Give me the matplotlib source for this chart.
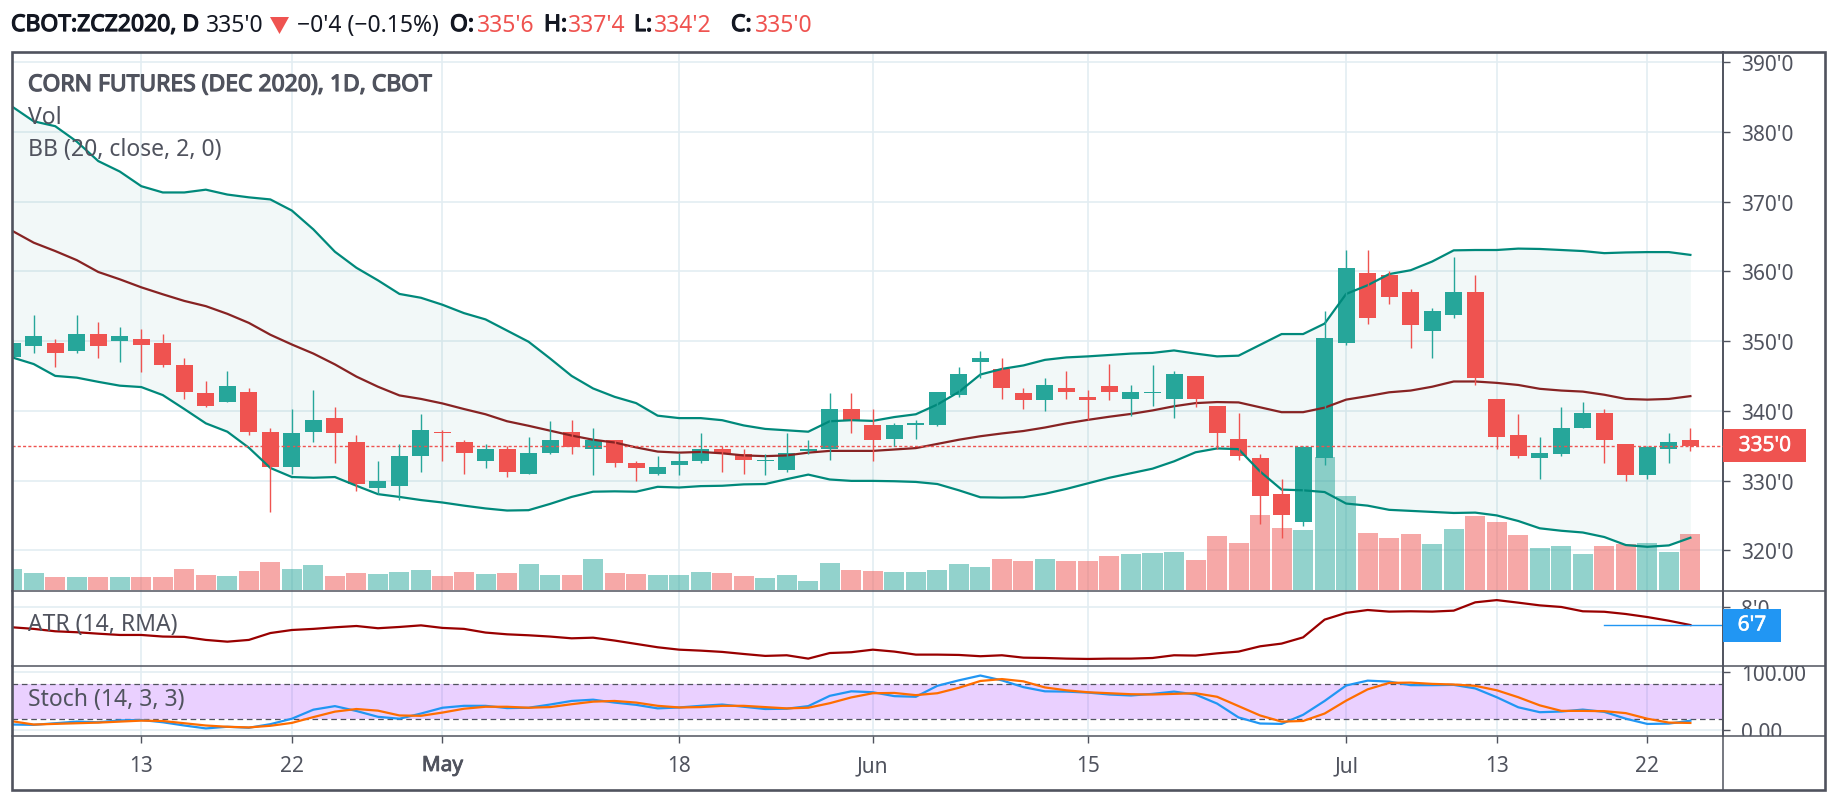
import matplotlib
matplotlib.use("Agg")
import matplotlib.pyplot as plt
import matplotlib.patheffects as pe
from matplotlib.patches import Rectangle, Polygon
from matplotlib.transforms import Bbox, TransformedBbox

plt.rcParams['font.family'] = ['Noto Sans', 'DejaVu Sans']

W, H = 1837, 803

opens = [347.75,349.25,349.75,348.5,351,350,350.25,349.75,346.5,342.5,341.25,342.75,337,332,337,339,335.5,329,329.25,333.5,
         337,335.5,332.75,334.5,331,334,337,334.5,335.75,332.5,331,332.25,332.75,334.5,333.75,332.75,331.5,334.25,334.5,340.25,
         338,336,338,338,342.25,347,346,342.5,341.5,343.25,342,343.5,341.75,342.5,341.75,345,340.75,336,333.25,328,
         324,333.25,349.75,359.75,359.5,357,351.5,353.75,357,341.75,336.5,333.25,333.75,337.5,339.75,335.25,330.75,334.5,335.75]
highs = [350.25,353.75,350.25,353.75,352.75,352,351.75,351,347.5,344.25,345.75,343.25,337.5,340.25,343,340.5,336.5,332.75,335.25,339.5,
         337.25,335.75,335.25,335,336.25,338.5,338.75,337.5,335.75,332.75,333.5,334,336.75,335,334.5,333.75,336.75,335.75,342.5,342.5,
         340.25,338.25,338.75,342.75,346.25,348.5,347.5,343.25,344.75,345.75,343,346.75,343.75,346.5,345.75,345,340.75,339.75,333.75,330.25,
         335,354.25,363,363,360,357.5,354.75,362,359.5,341.75,339.5,336.25,340.5,341.25,340.25,335.25,335,336.75,337.5]
lows = [347.5,348.25,346.25,348.25,347.5,347,345.5,346.25,341.75,340.5,341.25,336.5,325.5,331,335.5,332.5,328.5,328,327.25,331.25,
        332.75,331,331.75,330.5,331,333.75,333.75,330.75,332,330,330.75,330.75,332.5,331.25,331,330.75,331.25,333.75,333,336.75,
        332.75,335,336,337.75,342,344.75,341.75,340.25,340,341.75,338.75,341.5,339.25,340.75,339,340.5,334.5,333,323.75,321.75,
        323.5,332.25,349.5,352.5,355.25,349,347.5,353.25,343.75,334.5,333.25,330.25,333.5,337.5,332.5,330,330.25,332.5,334.25]
closes = [349.75,350.75,348.25,351,349.25,350.75,349.5,346.5,342.75,340.75,343.5,337,332,336.75,338.75,336.75,329.5,330,333.5,337.25,
          336.75,334,334.5,331.25,334,335.75,334.75,335.75,332.5,331.75,332,332.75,334.5,334,333,333,334,334.5,340.25,338.75,
          335.75,338,338.25,342.75,345.25,347.5,343.25,341.5,343.75,342.75,341.5,342.75,342.75,342.75,345.25,341.75,336.75,333.5,327.75,325,
          334.75,350.5,360.5,353.25,356.25,352.25,354.25,357,344.75,336.25,333.5,334,337.5,339.75,335.75,330.75,334.75,335.5,335]
volume = [21,17,13,13,13,13,13,13,21,15,14,19,28,21,25,14,17,16,18,20,
          14,18,16,17,26,15,15,31,17,16,15,15,18,17,14,12,15,9,27,20,
          19,18,18,20,26,23,31,29,31,29,29,34,36,37,38,30,54,47,75,62,
          60,133,94,57,52,56,46,61,74,68,55,42,44,36,44,46,47,38,56]
bb_upper = [383.6,381.5,380.8,378.6,375.8,374.3,372.2,371.3,371.3,371.7,371,370.6,370.3,368.7,366,362.8,360.5,358.7,356.75,356.2,
            355.2,354,353.1,351.5,349.9,347.5,345,343.2,342,341.1,339.3,338.95,338.95,338.65,337.9,337.4,337.2,337,338.5,338.65,
            338.55,339.1,339.5,340.9,342.7,345.2,346,346.5,347.3,347.65,347.8,348,348.2,348.3,348.65,348.2,347.8,347.9,349.45,351,
            351,352.5,356.75,358,359.6,360.15,361.4,363,363.05,363.05,363.25,363.2,363.05,362.9,362.6,362.7,362.75,362.75,362.35]
bb_basis = [365.8,364.1,362.9,361.6,359.9,358.85,357.7,356.7,355.75,355,353.9,352.6,350.9,349.5,348.2,346.65,344.9,343.45,342.2,341.7,
            341.05,340.25,339.5,338.5,337.85,337.15,336.45,335.85,335.45,334.75,334.15,334,334.1,333.9,333.6,333.5,333.6,334,334.25,334.25,
            334.25,334.45,334.65,335.25,335.85,336.35,336.75,337.1,337.6,338.2,338.7,339.15,339.55,340.05,340.65,341.1,341.25,341.2,340.5,339.8,
            339.8,340.45,341.6,342.1,342.65,342.9,343.45,344.2,344.2,344,343.7,343.15,342.9,342.75,342.3,341.7,341.6,341.7,342.1]
bb_lower = [347.65,346.7,345,344.75,344.15,343.6,343.4,342.25,340.25,338.2,337,334.7,331.8,330.5,330.4,330.5,329.25,328.05,327.65,327.2,
            326.85,326.4,326,325.7,325.75,326.65,327.65,328.4,328.45,328.4,329.1,329,329.2,329.25,329.45,329.5,330.2,330.85,330.15,329.95,
            329.95,329.9,329.8,329.5,328.6,327.6,327.55,327.6,328.1,328.8,329.6,330.4,331.05,331.7,332.75,334.05,334.6,334.5,331.3,328.7,
            328.6,328.35,326.7,326.4,325.8,325.65,325.5,325.35,325.4,325,324.2,323.15,322.8,322.55,321.9,320.75,320.5,320.7,321.8]
atr = [6.75,6.65,6.50,6.44,6.35,6.27,6.27,6.17,6.15,5.96,5.85,5.96,6.39,6.58,6.65,6.75,6.83,6.69,6.77,6.87,
       6.71,6.65,6.42,6.31,6.25,6.17,6.06,6.10,5.92,5.71,5.50,5.35,5.29,5.21,5.08,4.96,5.0,4.79,5.14,5.19,
       5.35,5.23,5.04,5.04,5.02,4.94,5.0,4.85,4.83,4.79,4.77,4.79,4.79,4.83,5.0,4.98,5.12,5.23,5.56,5.73,
       6.12,7.23,7.65,7.83,7.73,7.75,7.73,7.79,8.31,8.45,8.29,8.12,8.02,7.75,7.72,7.58,7.39,7.16,6.89]
stoch_k = [10,9.4,12.2,15,13.9,17.2,17.8,13.9,8.3,3.3,6.1,4.4,10.6,20,35.6,41.7,33.3,23.3,20,28.9,
           38.9,42.2,42.2,38.3,38.9,44.4,50.6,52.8,47.8,43.9,37.8,39.4,42.2,44.4,40.6,36.7,37.2,41.7,59.4,67.2,
           65.6,58.9,57.8,76.7,86.1,94.4,86.1,74.4,67.2,66.7,65,61.7,60,62.8,66.7,61.7,46.1,22.2,11.7,11.1,
           26.7,50.6,77.2,85.6,83.9,77.8,77.8,78.3,72.2,57,39.7,31.2,32.4,35.7,31.8,20,11,11.6,16.6]
stoch_d = [15.6,10,11.1,12.2,13.3,15,16.7,16.1,12.2,8.3,6.1,5,7.8,12.8,22.8,32.2,36.7,33.9,25.6,25,
           30.6,37.2,40.6,40.6,38.9,40,45,49.4,50.6,47.8,42.2,39.4,40,42.2,42.2,40,37.8,38.9,46.7,56.7,
           63.9,64.4,60.6,63.9,73.3,85,88.3,84.4,73.9,68.9,65.6,63.9,62.2,61.7,62.8,63.9,57.8,41.7,25.6,15,
           16.1,28.9,51.1,70.6,81.7,82.2,80,78.9,76.7,69,57,43,33.5,33.5,33,29.6,20,13.3,12.7]

tick_positions = [6, 13, 20, 31, 40, 50, 62, 69, 76]
tick_labels = ['13', '22', 'May', '18', 'Jun', '15', 'Jul', '13', '22']
price_ticks = [320, 330, 340, 350, 360, 370, 380, 390]
last_price = 335.0
last_atr = 6.875

RED, TEAL = '#ef5350', '#26a69a'
GRID = '#e3edf2'
FRAME = '#50535e'
TEXT = '#50535e'
DARK = '#131722'
FONT = 15
FONT_L = 16.5

fig = plt.figure(figsize=(W / 100, H / 100), dpi=100, facecolor='white')


def rect(x0, y0, x1, y1):
    return [x0 / W, 1 - y1 / H, (x1 - x0) / W, (y1 - y0) / H]


def px(x, y):
    return x / W, 1 - y / H


LEFT, AXR, RIGHT = 12.0, 1723.3, 1825.0
TOP, D1, D2, D3, BOTTOM = 52.7, 592.3, 667.3, 737.3, 790.5
XLIM = (-0.009, 79.53)
xs = list(range(len(closes)))


def pane(y0, y1, ylim, z=0, bare=False):
    a = fig.add_axes(rect(LEFT, y0, AXR, y1), zorder=z)
    a.set_xlim(*XLIM)
    a.set_ylim(*ylim)
    if bare:
        a.set_axis_off()
    else:
        a.set_xticks(tick_positions)
        a.set_xticklabels([])
        a.tick_params(axis='x', length=0)
        a.yaxis.tick_right()
        a.tick_params(axis='y', length=6.5 * 0.72, width=1.0, color=FRAME, labelcolor=TEXT,
                      labelsize=FONT, pad=8)
        a.grid(True, color=GRID, lw=1.2)
        a.set_axisbelow(True)
        for s in ('left', 'top', 'bottom'):
            a.spines[s].set_visible(False)
        a.spines['right'].set_color(FRAME)
        a.spines['right'].set_linewidth(1.4)
    return a


def clip_labels(a, y0, y1):
    box = TransformedBbox(Bbox([[AXR / W, 1 - y1 / H], [RIGHT / W, 1 - y0 / H]]), fig.transFigure)
    for lab in a.get_yticklabels():
        lab.set_clip_box(box)
        lab.set_clip_on(True)


# ---------- main pane
PYLIM = (314.12, 391.48)
ax = pane(TOP, D1, PYLIM, 0)
ax.set_yticks(price_ticks)
ax.set_yticklabels([f"{p}'0" for p in price_ticks])

axv = pane(TOP, D1, (-1.6, 538), 1, bare=True)
vcolors = [RED if c < o else TEAL for o, c in zip(opens, closes)]
axv.bar(xs, volume, width=0.93, color=vcolors, alpha=0.5, linewidth=0)

axc = pane(TOP, D1, PYLIM, 2, bare=True)
axc.fill_between(xs, bb_lower, bb_upper, color='#00897b', alpha=0.05, linewidth=0)
axc.plot(xs, bb_upper, color='#00897b', lw=1.6, solid_joinstyle='round')
axc.plot(xs, bb_lower, color='#00897b', lw=1.6, solid_joinstyle='round')
axc.plot(xs, bb_basis, color='#872323', lw=1.6, solid_joinstyle='round')
axc.axhline(last_price, color=RED, lw=1.0, ls=(0, (2.2, 1.6)))
axc.vlines(xs, lows, highs, colors=vcolors, lw=1.0)
bottoms = [min(o, c) for o, c in zip(opens, closes)]
heights = [max(abs(c - o), 0.25) for o, c in zip(opens, closes)]
axc.bar(xs, heights, bottom=bottoms, width=0.79, color=vcolors, linewidth=0)

# ---------- ATR pane
ax2 = pane(D1, D2, (4.31, 9.0), 0)
ax2.set_yticks([8])
ax2.set_yticklabels(["8'0"])
ax2.plot(xs, atr, color='#990000', lw=1.6, solid_joinstyle='round')
ax2.plot([74, XLIM[1]], [last_atr, last_atr], color='#2196f3', lw=1.0)

# ---------- Stochastic pane
ax3 = pane(D2, D3, (-10.3, 110.3), 0)
ax3.set_yticks([0, 100])
ax3.set_yticklabels(['0.00', '100.00'])
ax3.axhspan(20, 80, color='#9915ff', alpha=0.2, linewidth=0)
ax3.axhline(80, color='#50535e', lw=0.9, ls=(0, (4.5, 3)))
ax3.axhline(20, color='#50535e', lw=0.9, ls=(0, (4.5, 3)))
ax3.plot(xs, stoch_k, color='#2196f3', lw=1.6, solid_joinstyle='round')
ax3.plot(xs, stoch_d, color='#ff6d00', lw=1.6, solid_joinstyle='round')
ax3.tick_params(axis='x', length=6.5 * 0.72, width=1.0, color=FRAME)

fig.canvas.draw()
clip_labels(ax, TOP, D1)
clip_labels(ax2, D1, D2)
clip_labels(ax3, D2, D3)


def T(x, y, s, bold=False, **kw):
    kw.setdefault('fontsize', FONT_L)
    kw.setdefault('color', TEXT)
    kw.setdefault('va', 'center')
    kw.setdefault('ha', 'left')
    kw.setdefault('zorder', 20)
    t = fig.text(*px(x, y), s, **kw)
    if bold:
        # the installed Noto Sans has no separate heavy face here: thicken the outline
        t.set_path_effects([pe.withStroke(linewidth=bold if bold is not True else 0.9, foreground=kw['color'])])
    return t


# ---------- frame and dividers
fig.add_artist(Rectangle(px(LEFT, BOTTOM), (RIGHT - LEFT) / W, (BOTTOM - TOP) / H, transform=fig.transFigure,
                         fill=False, ec=FRAME, lw=1.9, zorder=15))
for yy in (D1, D2, D3):
    fig.add_artist(plt.Line2D([LEFT / W, RIGHT / W], [1 - yy / H] * 2, color=FRAME, lw=1.1, zorder=15))
fig.add_artist(plt.Line2D([AXR / W] * 2, [1 - D3 / H, 1 - BOTTOM / H], color=FRAME, lw=1.1, zorder=15))

# ---------- x labels
for pos, lab in zip(tick_positions, tick_labels):
    xp = LEFT + (pos - XLIM[0]) / (XLIM[1] - XLIM[0]) * (AXR - LEFT)
    T(xp, 766.5, lab, ha='center', fontsize=FONT, bold=0.6 if lab == 'May' else False)

# ---------- last-value labels
fig.add_artist(Rectangle(px(AXR, 462.7), 83 / W, 32.7 / H, transform=fig.transFigure, fc=RED, ec='none', zorder=16))
T(1765, 446.5, "335'0", ha='center', color='white', zorder=21, fontsize=FONT, bold=0.4)
fig.add_artist(Rectangle(px(AXR, 642.7), 58 / W, 32.7 / H, transform=fig.transFigure, fc='#2196f3', ec='none', zorder=16))
T(1752, 626, "6'7", ha='center', color='white', zorder=21, fontsize=FONT, bold=0.4)

# ---------- legends
T(28, 86, 'CORN FUTURES (DEC 2020), 1D, CBOT', bold=True)
T(28, 118.5, 'Vol')
T(28, 150, 'BB (20, close, 2, 0)')
T(28, 625, 'ATR (14, RMA)')
T(28, 700, 'Stoch (14, 3, 3)')

# ---------- header
Y = 26
T(11, Y, 'CBOT:ZCZ2020, D', color=DARK, bold=True)
T(206, Y, "335'0", color=DARK)
fig.add_artist(Polygon([px(270, 18), px(289, 18), px(279.5, 35)], closed=True, transform=fig.transFigure,
                       fc=RED, ec='none', zorder=20))
T(297, Y, "\u22120'4 (\u22120.15%)", color=DARK)
for xp, lab, xv, val in [(450, 'O:', 477, "335'6"), (544, 'H:', 568, "337'4"),
                         (634, 'L:', 654, "334'2"), (731, 'C:', 755, "335'0")]:
    T(xp, Y, lab, color=DARK, bold=True)
    T(xv, Y, val, color=RED)

fig.savefig('out.png', dpi=100)
